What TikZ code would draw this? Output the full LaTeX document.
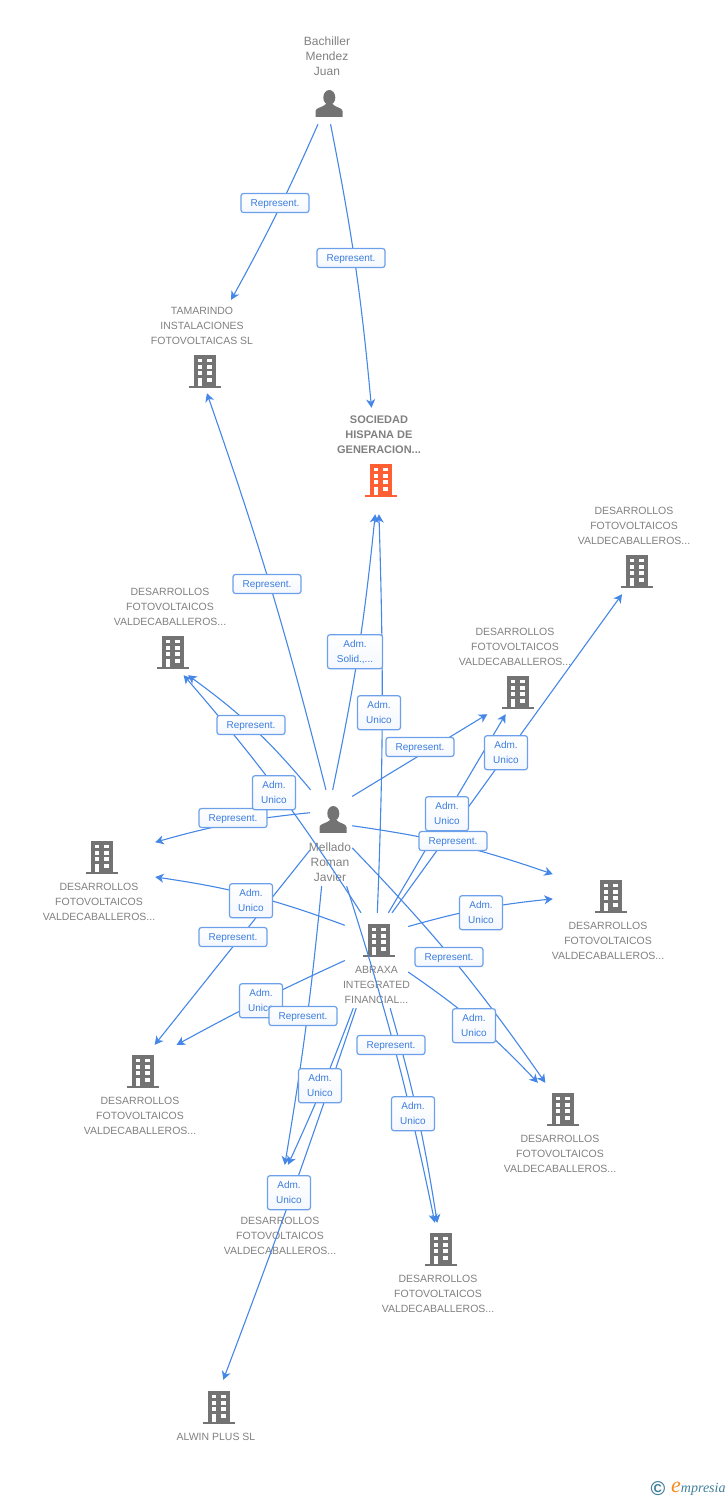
\documentclass[tikz,border=0pt]{standalone}
\usepackage{fontspec}
\setmainfont{Liberation Sans}
\newfontfamily\logofont{Liberation Serif}
\usetikzlibrary{arrows.meta}
\definecolor{linkblue}{HTML}{4587E6}
\definecolor{boxblue}{HTML}{6CA0EA}
\definecolor{tagblue}{HTML}{3C7DDE}
\definecolor{namegrey}{HTML}{808080}
\definecolor{icongrey}{HTML}{737373}
\definecolor{iconorange}{HTML}{FF5F33}
\definecolor{logoteal}{HTML}{3F7F9C}
\definecolor{logoorange}{HTML}{F58A1F}
\tikzset{
  >={Stealth[length=8.5pt,width=9pt,inset=2.5pt]},
  link/.style={draw=linkblue,line width=1.1pt,->},
  entity/.style={inner sep=0pt,minimum width=#1},
  entity/.default=116pt,
  nametext/.style={inner sep=0pt,align=center,text=namegrey,yshift=-0.7pt,font=\fontsize{10.5}{15}\selectfont},
  persontext/.style={nametext,font=\fontsize{12}{15}\selectfont},
  rolebox/.style={draw=boxblue,line width=1.2pt,rounded corners=2.5pt,top color=white,bottom color=white!92!boxblue,
    inner sep=0pt,align=center,text=tagblue,font=\fontsize{10}{15}\selectfont},
  rep/.style={rolebox,minimum width=68pt,minimum height=19pt,text depth=0pt},
  adm/.style={rolebox,minimum width=43pt,minimum height=34pt,yshift=-0.7pt},
  pics/building/.style={code={
    \fill[#1] (-10.6,-16.5) rectangle (11,14.8);
    \fill[#1] (-15.6,14.8) rectangle (16,16.8);
    \fill[white] (-7,-12.3) rectangle (-2.7,-9);
    \fill[white] (2.3,-12.3) rectangle (7,-9);
    \fill[white] (-7,-6) rectangle (-2.7,-2.5);
    \fill[white] (2.3,-6) rectangle (7,-2.5);
    \fill[white] (-7,0.3) rectangle (-2.7,3.8);
    \fill[white] (2.3,0.3) rectangle (7,3.8);
    \fill[white] (-7,6.7) rectangle (-2.7,14.8);
    \fill[white] (2.3,6.7) rectangle (7,10.7);
  }},
  pics/building/.default=icongrey,
  pics/person/.style={code={
    \fill[icongrey] (0.3,-6.5) ellipse (6 and 7.5);
    \fill[icongrey] (-13.5,12.8) -- (-13.5,7) .. controls (-13.5,3.5) and (-6,3.5) .. (-3,0) -- (3.5,0)
      .. controls (6,3.5) and (13.5,3.5) .. (13.5,7) -- (13.5,12.8) -- cycle;
  }}
}
\begin{document}
\begin{tikzpicture}[x=1pt,y=-1pt]
    \useasboundingbox (0,0) rectangle (728,1500);
    % hidden boxes the links stop at
    \node[entity=60pt,minimum height=88pt] (bachiller) at (329,80) {};
    \node[entity=110pt,minimum height=93pt] (tamarindo) at (202,346.5) {};
    \node[entity=90pt,minimum height=106pt] (sociedad) at (378,461) {};
    \node[entity,minimum height=89pt] (desarrollosa) at (634,549.5) {};
    \node[entity,minimum height=88pt] (desarrollosb) at (515,670) {};
    \node[entity,minimum height=89pt] (desarrollosc) at (170,630.5) {};
    \node[entity=42pt,minimum height=96pt] (mellado) at (331,838) {};
    \node[entity=112pt,minimum height=90pt] (desarrollosd) at (99,876) {};
    \node[entity=112pt,minimum height=90pt] (desarrollose) at (609,915) {};
    \node[entity=63pt,minimum height=95pt] (abraxa) at (376.5,960.5) {};
    \node[entity,minimum height=90pt] (desarrollosf) at (140,1090) {};
    \node[entity,minimum height=90pt] (desarrollosg) at (560,1128) {};
    \node[entity,minimum height=90pt] (desarrollosh) at (280,1210) {};
    \node[entity,minimum height=90pt] (desarrollosi) at (438,1268) {};
    \node[entity=100pt,minimum height=64pt] (almin) at (217,1412) {};
    % names
    \node[persontext] (bachillername) at (327,56) {Bachiller\\Mendez\\Juan};
    \node[nametext] (tamarindoname) at (202,325) {TAMARINDO\\INSTALACIONES\\FOTOVOLTAICAS SL};
    \node[nametext,font=\fontsize{11}{15}\selectfont\bfseries] (sociedadname) at (379,434) {SOCIEDAD\\HISPANA DE\\GENERACION...};
    \node[nametext] (namea) at (634,525) {DESARROLLOS\\FOTOVOLTAICOS\\VALDECABALLEROS...};
    \node[nametext] (nameb) at (515,646) {DESARROLLOS\\FOTOVOLTAICOS\\VALDECABALLEROS...};
    \node[nametext] (namec) at (170,606) {DESARROLLOS\\FOTOVOLTAICOS\\VALDECABALLEROS...};
    \node[persontext] (melladoname) at (330,861.5) {Mellado\\Roman\\Javier};
    \node[nametext] (named) at (99,901) {DESARROLLOS\\FOTOVOLTAICOS\\VALDECABALLEROS...};
    \node[nametext] (namee) at (608,940) {DESARROLLOS\\FOTOVOLTAICOS\\VALDECABALLEROS...};
    \node[nametext] (abraxaname) at (376.5,984) {ABRAXA\\INTEGRATED\\FINANCIAL...};
    \node[nametext] (namef) at (140,1115) {DESARROLLOS\\FOTOVOLTAICOS\\VALDECABALLEROS...};
    \node[nametext] (nameg) at (560,1153) {DESARROLLOS\\FOTOVOLTAICOS\\VALDECABALLEROS...};
    \node[nametext] (nameh) at (280,1235) {DESARROLLOS\\FOTOVOLTAICOS\\VALDECABALLEROS...};
    \node[nametext] (namei) at (438,1293) {DESARROLLOS\\FOTOVOLTAICOS\\VALDECABALLEROS...};
    \node[nametext] (alminname) at (216,1436) {ALWIN PLUS SL};
    % icons
    \pic at (329,104) {person};
    \pic at (333,820) {person};
    \pic at (205,371) {building};
    \pic at (381,480) {building=iconorange};
    \pic at (637,571) {building};
    \pic at (518,692) {building};
    \pic at (173,652) {building};
    \pic at (102,857) {building};
    \pic at (611,896) {building};
    \pic at (379,940) {building};
    \pic at (143,1071) {building};
    \pic at (563,1109) {building};
    \pic at (283,1191) {building};
    \pic at (441,1249) {building};
    \pic at (219,1407) {building};
    % links
    \draw[link] (bachiller.256) to[bend left=2.5] (tamarindo.58);
    \draw[link] (bachiller.272) to[bend left=3] (sociedad.97);
    \draw[link] (mellado.96) to[bend right=2.5] (tamarindo.276);
    \draw[link] (mellado.88) to[bend right=3] (sociedad.267);
    \draw[link] (abraxa.89) to[bend right=2] (sociedad.271);
    \draw[link] (mellado.113) to[bend right=7] (desarrollosc.292);
    \draw[link] (abraxa.108) to[bend right=4] (desarrollosc.287);
    \draw[link] (mellado.130) to[bend right=5] (desarrollosd.31);
    \draw[link] (abraxa.132) to[bend right=6] (desarrollosd.359);
    \draw[link] (mellado.210) -- (desarrollosf.72);
    \draw[link] (abraxa.180) to[bend right=2] (desarrollosf.51);
    \draw[link] (mellado.259) to[bend left=2] (desarrollosh.84);
    \draw[link] (abraxa.244) to[bend left=2] (desarrollosh.80);
    \draw[link] (abraxa.247) to[bend left=1] (almin.79);
    \draw[link] (mellado.288) to[bend left=3] (desarrollosi.94);
    \draw[link] (abraxa.286) to[bend left=3.5] (desarrollosi.91);
    \draw[link] (mellado.335) to[bend left=4.5] (desarrollosg.108);
    \draw[link] (abraxa.340) to[bend left=6] (desarrollosg.116);
    \draw[link] (mellado.30) to[bend left=5.5] (desarrollose.144);
    \draw[link] (abraxa.47) to[bend left=5] (desarrollose.164);
    \draw[link] (mellado.63) -- (desarrollosb.238);
    \draw[link] (abraxa.76) -- (desarrollosb.258);
    \draw[link] (abraxa.72) -- (desarrollosa.255);
    % role tags
    \node[rep] (repa) at (275,203) {Represent.};
    \node[rep] (repb) at (351,258) {Represent.};
    \node[rep] (repc) at (267,584) {Represent.};
    \node[rep] (repd) at (251,725) {Represent.};
    \node[rep] (repe) at (233,818) {Represent.};
    \node[rep] (repf) at (420,747) {Represent.};
    \node[adm] (admc) at (274,792) {Adm.\\Unico};
    \node[adm] (admd) at (506,752) {Adm.\\Unico};
    \node[adm] (adme) at (447,813) {Adm.\\Unico};
    \node[rep] (repg) at (453,841) {Represent.};
    \node[rep] (reph) at (233,937) {Represent.};
    \node[rep] (repi) at (449,957) {Represent.};
    \node[adm] (admh) at (261,1000) {Adm.\\Unico};
    \node[rep] (repj) at (303,1016) {Represent.};
    \node[rep] (repk) at (391,1045) {Represent.};
    \node[adm,minimum width=55pt] (adma) at (355,651) {Adm.\\Solid.,...};
    \node[adm] (admb) at (379,712) {Adm.\\Unico};
    \node[adm] (admf) at (251,900) {Adm.\\Unico};
    \node[adm] (admg) at (481,912) {Adm.\\Unico};
    \node[adm] (admi) at (474,1025) {Adm.\\Unico};
    \node[adm] (admj) at (320,1085) {Adm.\\Unico};
    \node[adm] (admk) at (413,1113) {Adm.\\Unico};
    \node[adm] (adml) at (289,1192) {Adm.\\Unico};
    % logo
    \node[text=logoteal,font=\fontsize{20}{20}\selectfont\bfseries] (logomark) at (658,1489) {©};
    \node[anchor=west,inner sep=0pt,text=logoteal,font=\logofont\itshape\fontsize{14}{14}\selectfont] (logoname) at (671,1489)
      {{\color{logoorange}\fontsize{22}{22}\selectfont e}mpresia};
\end{tikzpicture}
\end{document}
